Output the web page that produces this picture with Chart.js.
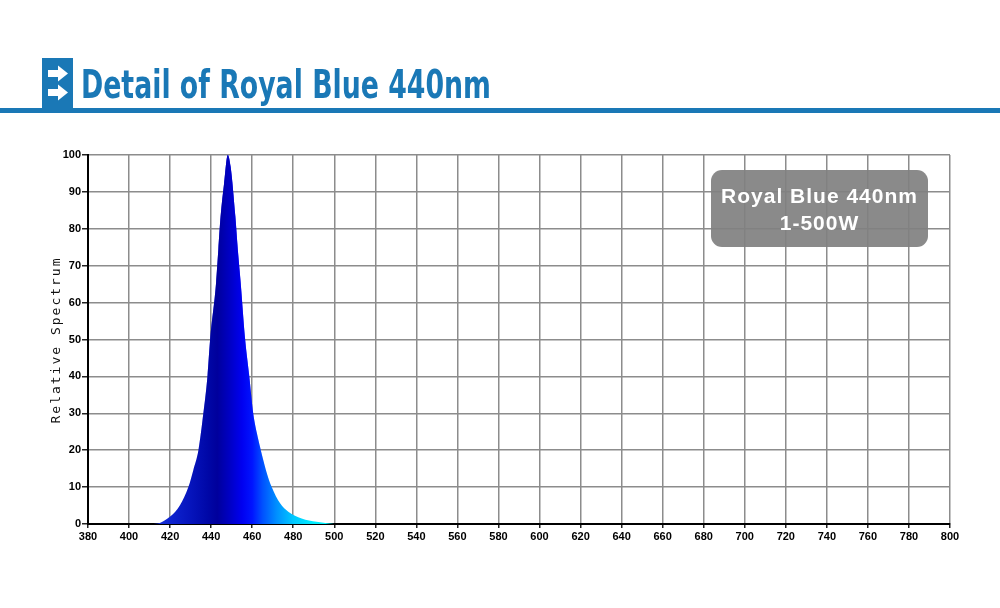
<!DOCTYPE html>
<html>
<head>
<meta charset="utf-8">
<script src="https://cdn.jsdelivr.net/npm/chart.js@4/dist/chart.umd.min.js"></script>
<style>
    html, body { margin: 0; padding: 0; background: #fff; }
    #wrap { width: 1000px; height: 608px; }
</style>
</head>
<body>
<div id="wrap"><canvas id="spectrum" width="1000" height="608"></canvas></div>
<script>
// spectrum (nm -> relative value)
const wavelengths = [411, 415, 420, 424.8, 428.9, 431.3, 433.8, 436.2, 438.2, 439.5, 442.4, 443.5, 444.6, 446.3, 448.1, 449.5, 451.8, 453, 454.4, 456.5, 458.6, 460.5, 463, 464.2, 466.7, 469.5, 473.6, 477.6, 484.1, 491.4, 500];
const relative    = [0, 0.3, 2, 5.1, 10, 14.6, 20, 30, 40, 50, 65.3, 74.3, 83.3, 92.3, 100, 96.8, 83.3, 74.3, 65.3, 50.4, 40, 30, 22.8, 20, 14.6, 10, 5.6, 3.3, 1.5, 0.6, 0];

const xTicks = { min: 380, max: 800, step: 20 };
const yTicks = { min: 0, max: 100, step: 10 };

const pageTitle  = 'Detail of Royal Blue 440nm';
const badgeLines = ['Royal Blue 440nm', '1-500W'];
const yTitle     = 'Relative Spectrum';

const headerBlue = '#1a78b6';

// colour along the wavelength axis
const hueStops = [
    [411, '#1a34dc'], [420, '#0e24d0'], [430, '#0614bc'], [438, '#0008a8'], [443, '#00009c'],
    [449, '#0000c4'], [455, '#0000f0'], [460, '#0014ff'], [465, '#0050ff'], [472, '#0090ff'],
    [480, '#00c8ff'], [490, '#00eeff'], [500, '#00f8ff'],
];

function wavelengthFill(context) {
    const chart = context.chart;
    if (!chart.chartArea) return '#0000cc';
    const xs = chart.scales.x;
    const x0 = xs.getPixelForValue(411), x1 = xs.getPixelForValue(500);
    const g = chart.ctx.createLinearGradient(x0, 0, x1, 0);
    hueStops.forEach(([nm, col]) => g.addColorStop((xs.getPixelForValue(nm) - x0) / (x1 - x0), col));
    return g;
}

function heightGlow(context) {
    const chart = context.chart;
    if (!chart.chartArea) return 'rgba(0,0,0,0)';
    const ys = chart.scales.y;
    const g = chart.ctx.createLinearGradient(0, ys.getPixelForValue(6), 0, ys.getPixelForValue(100));
    g.addColorStop(0, 'rgba(8,8,250,0)');
    g.addColorStop(0.4, 'rgba(8,8,250,0.6)');
    g.addColorStop(1, 'rgba(8,8,245,0.9)');
    return g;
}

const decorations = {
    id: 'decorations',
    beforeDraw(chart) {
        const c = chart.ctx;
        c.save();
        c.fillStyle = '#fff';
        c.fillRect(0, 0, chart.width, chart.height);
        c.restore();
    },
    afterDraw(chart) {
        const c = chart.ctx;
        c.save();

        // header icon
        c.fillStyle = headerBlue;
        c.fillRect(42, 58, 31, 52);
        c.fillStyle = '#fff';
        [73.5, 92.5].forEach(cy => {
            c.beginPath();
            c.moveTo(48, cy - 3.5);
            c.lineTo(58, cy - 3.5);
            c.lineTo(58, cy - 8);
            c.lineTo(68, cy);
            c.lineTo(58, cy + 8);
            c.lineTo(58, cy + 3.5);
            c.lineTo(48, cy + 3.5);
            c.closePath();
            c.fill();
        });

        // header title + rule
        c.fillStyle = headerBlue;
        c.font = 'bold 39px "Liberation Sans Narrow", "DejaVu Sans Condensed", "Liberation Sans", sans-serif';
        c.textBaseline = 'alphabetic';
        c.textAlign = 'left';
        c.fillText(pageTitle, 81, 98, 410);
        c.fillRect(0, 108, chart.width, 5);

        // y axis title, letter spaced
        c.translate(57, 340);
        c.rotate(-Math.PI / 2);
        c.fillStyle = '#111';
        c.font = '13px "DejaVu Sans Mono", monospace';
        c.letterSpacing = '2px';
        c.textAlign = 'center';
        c.textBaseline = 'middle';
        c.fillText(yTitle, 0, 0);
        c.setTransform(1, 0, 0, 1, 0, 0);
        c.letterSpacing = '0px';

        // badge
        const bx = 711, by = 170, bw = 217, bh = 77;
        c.fillStyle = 'rgba(128,128,128,0.92)';
        c.beginPath();
        c.roundRect(bx, by, bw, bh, 11);
        c.fill();
        c.fillStyle = '#fff';
        c.font = 'bold 21px "Liberation Sans", Arial, sans-serif';
        c.letterSpacing = '1px';
        c.textAlign = 'center';
        c.textBaseline = 'middle';
        c.fillText(badgeLines[0], bx + bw / 2, 197);
        c.fillText(badgeLines[1], bx + bw / 2, 224);
        c.restore();
    }
};

const points = wavelengths.map((w, i) => ({ x: w, y: relative[i] }));

new Chart(document.getElementById('spectrum'), {
    type: 'line',
    data: {
        datasets: [
            { data: points, fill: 'origin', backgroundColor: wavelengthFill, borderWidth: 0, pointRadius: 0, cubicInterpolationMode: 'monotone' },
            { data: points, fill: 'origin', backgroundColor: heightGlow, borderWidth: 0, pointRadius: 0, cubicInterpolationMode: 'monotone' },
        ],
    },
    options: {
        responsive: false,
        animation: false,
        layout: { padding: { left: 40, top: 155, right: 50, bottom: 54 } },
        plugins: { legend: { display: false }, tooltip: { enabled: false } },
        scales: {
            x: {
                type: 'linear',
                min: xTicks.min,
                max: xTicks.max,
                afterFit: s => { s.height = 30; },
                ticks: {
                    stepSize: xTicks.step,
                    color: '#000',
                    padding: 2,
                    maxRotation: 0,
                    font: { family: '"Liberation Sans", Arial, sans-serif', size: 11, weight: 'bold' },
                },
                grid: { color: '#8c8c8c', lineWidth: 1.5, tickLength: 4, tickColor: '#222' },
                border: { color: '#000', width: 2 },
            },
            y: {
                min: yTicks.min,
                max: yTicks.max,
                afterFit: s => { s.width = 48; },
                ticks: {
                    stepSize: yTicks.step,
                    color: '#000',
                    padding: 1,
                    font: { family: '"Liberation Sans", Arial, sans-serif', size: 11, weight: 'bold' },
                },
                grid: { color: '#8c8c8c', lineWidth: 1.5, tickLength: 6, tickColor: '#222' },
                border: { color: '#000', width: 2 },
            },
        },
    },
    plugins: [decorations],
});
</script>
</body>
</html>
